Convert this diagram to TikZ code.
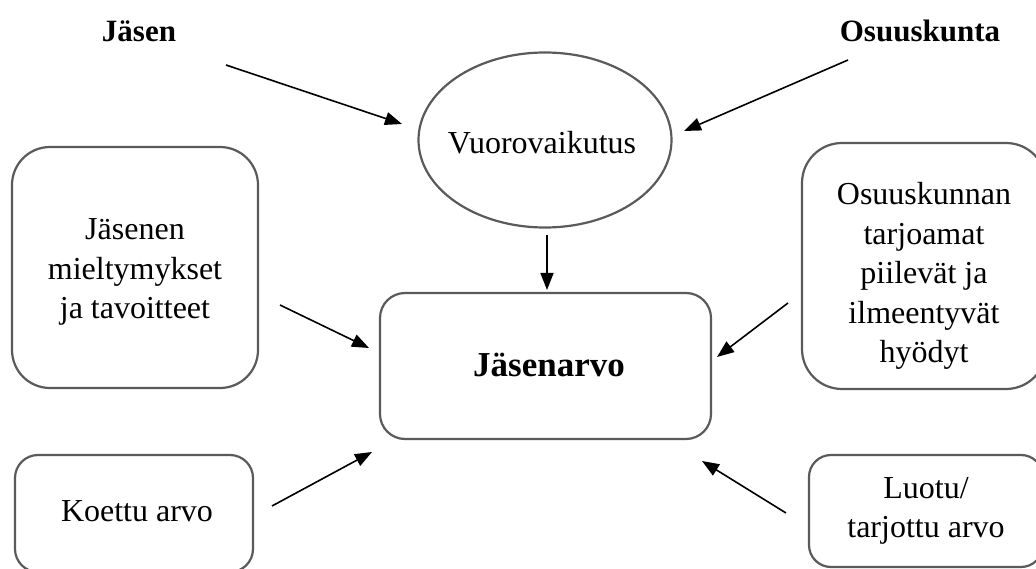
\documentclass[tikz,border=0pt]{standalone}
\usepackage{fontspec}
\setmainfont{Liberation Serif}
\usetikzlibrary{shapes.geometric,arrows.meta}
\definecolor{edgegray}{HTML}{5A5A5A}
\tikzset{
  txt/.style={font=\fontsize{32}{39.5}\selectfont, align=center, inner sep=0pt},
  boldtxt/.style={font=\fontsize{31}{38}\selectfont\bfseries, inner sep=0pt},
  rbox/.style={draw=edgegray, line width=2.2pt, rectangle, inner sep=0pt},
  conn/.style={line width=1.6pt, -{Triangle[length=17pt,width=13pt]}}
}
\begin{document}
\begin{tikzpicture}[x=1pt,y=-1pt]
\useasboundingbox (0,0) rectangle (1036,569);
\clip (0,0) rectangle (1036,569);
% titles
\node[boldtxt] (jasen) at (139,31) {Jäsen};
\node[boldtxt] (osk) at (920,31) {Osuuskunta};
% ellipse
\node[draw=edgegray, line width=2.2pt, ellipse, minimum width=253pt, minimum height=175pt, inner sep=0pt] (vuoro) at (545,140) {};
\node[txt] (vuorot) at (542,143) {Vuorovaikutus};
% centre box
\node[rbox, rounded corners=25pt, minimum width=331pt, minimum height=146pt] (arvo) at (545.5,366) {};
\node[boldtxt, font=\fontsize{35}{38}\selectfont\bfseries] (arvot) at (549,365) {Jäsenarvo};
% left top box
\node[rbox, rounded corners=38pt, minimum width=246pt, minimum height=241pt] (lt) at (135,267.5) {};
\node[txt] (ltt) at (135,272) {Jäsenen\\mieltymykset\\ja tavoitteet};
% right top box
\node[rbox, rounded corners=40pt, minimum width=244pt, minimum height=246pt] (rt) at (924,266) {};
\node[txt] (rtt) at (924,276) {Osuuskunnan\\tarjoamat\\piilevät ja\\ilmeentyvät\\hyödyt};
% Koettu arvo box
\node[rbox, rounded corners=23pt, minimum width=238pt, minimum height=117pt] (ka) at (134,513.5) {};
\node[txt] (kat) at (137,511) {Koettu arvo};
% Luotu box
\node[rbox, rounded corners=22pt, minimum width=234pt, minimum height=112pt] (lu) at (926,511) {};
\node[txt] (lut) at (926,511) {Luotu/\\tarjottu arvo};
% arrow end coordinates
\coordinate (a1s) at (226,65);   \coordinate (a1e) at (402,124);
\coordinate (a2s) at (848,60);   \coordinate (a2e) at (684,131);
\coordinate (a3s) at (547,235);  \coordinate (a3e) at (547,290);
\coordinate (a4s) at (280,305);  \coordinate (a4e) at (369,348);
\coordinate (a5s) at (788,303);  \coordinate (a5e) at (717,357);
\coordinate (a6s) at (272,506);  \coordinate (a6e) at (372,452);
\coordinate (a7s) at (786,513);  \coordinate (a7e) at (702,461);
\draw[conn] (a1s) -- (a1e);
\draw[conn] (a2s) -- (a2e);
\draw[conn] (a3s) -- (a3e);
\draw[conn] (a4s) -- (a4e);
\draw[conn] (a5s) -- (a5e);
\draw[conn] (a6s) -- (a6e);
\draw[conn] (a7s) -- (a7e);
\end{tikzpicture}
\end{document}
